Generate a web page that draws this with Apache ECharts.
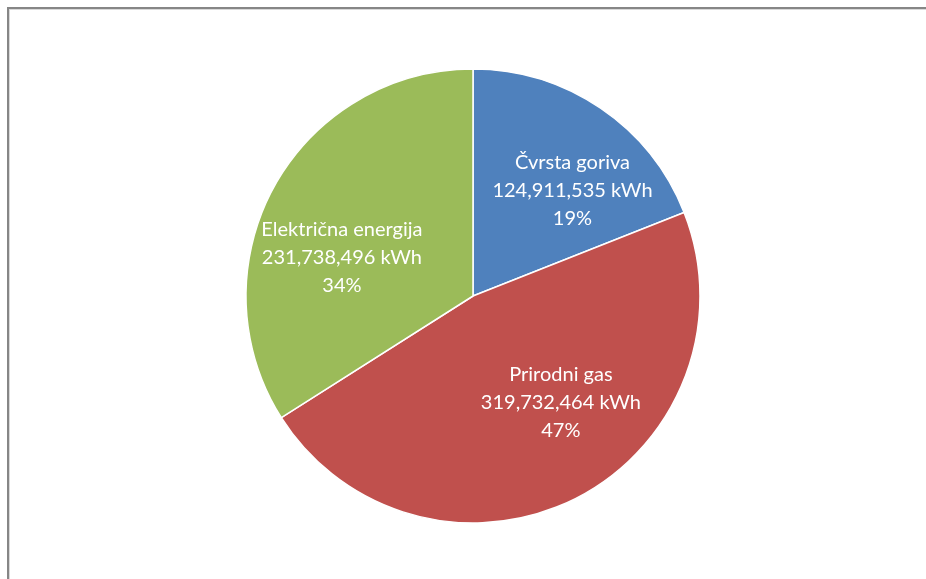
<!DOCTYPE html>
<html>
<head>
<meta charset="utf-8">
<script src="https://cdn.jsdelivr.net/npm/echarts@6/dist/echarts.min.js"></script>
<style>
html,body{margin:0;padding:0;background:#fff;}
#frame{position:absolute;left:7px;top:7px;width:1000px;height:700px;border-left:2px solid #868686;border-top:2px solid #868686;box-shadow:inset 1px 1px 0 #d9d9d9;}
#chart{position:absolute;left:0;top:0;width:926px;height:579px;}
</style>
</head>
<body>
<div id="frame"></div>
<div id="chart"></div>
<script>
// Data
const categories = ['Čvrsta goriva', 'Prirodni gas', 'Električna energija'];
const energyKWh = [124911535, 319732464, 231738496];
const sharePercent = [19, 47, 34];
const colors = ['#4F81BD', '#C0504D', '#9BBB59'];
// label nudges relative to the default inner label position
const labelNudge = [[34, -9], [35, 3], [-29, 18]];

function fmt(n) {
  return String(n).replace(/\B(?=(\d{3})+(?!\d))/g, ',');
}

const chart = echarts.init(document.getElementById('chart'), null, {renderer: 'canvas'});
chart.setOption({
  animation: false,
  backgroundColor: 'transparent',
  series: [{
    type: 'pie',
    center: [473, 296],
    radius: 227,
    startAngle: 90,
    clockwise: true,
    silent: true,
    itemStyle: {borderColor: '#ffffff', borderWidth: 1.5},
    label: {
      show: true,
      position: 'inner',
      color: '#ffffff',
      fontFamily: 'Lato',
      fontSize: 20,
      lineHeight: 28,
      align: 'center',
      formatter: p => p.name + '\n' + fmt(energyKWh[p.dataIndex]) + ' kWh\n' + sharePercent[p.dataIndex] + '%'
    },
    labelLine: {show: false},
    labelLayout: p => ({dx: labelNudge[p.dataIndex][0], dy: labelNudge[p.dataIndex][1]}),
    data: categories.map((c, i) => ({name: c, value: sharePercent[i], itemStyle: {color: colors[i]}}))
  }]
});
</script>
</body>
</html>
